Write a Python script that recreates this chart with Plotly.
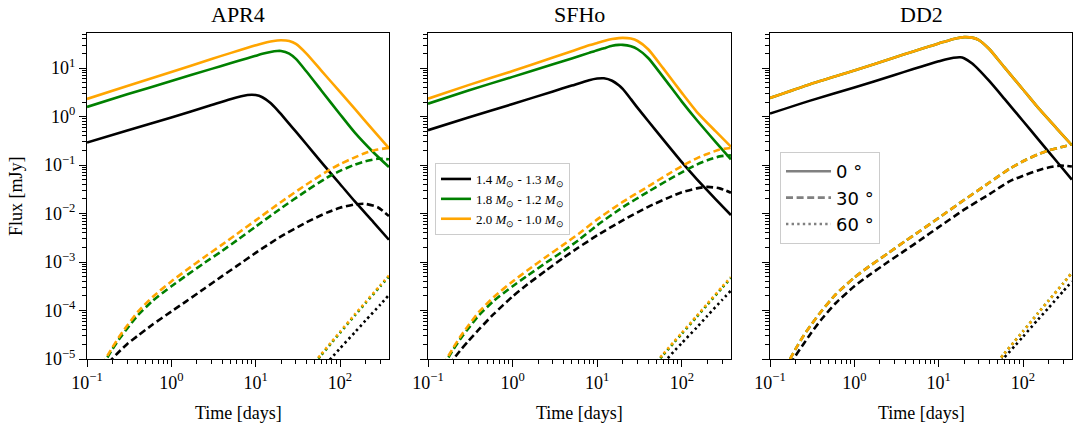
import plotly.graph_objects as go

# ---------------- data ----------------
# time grids [days]
T_SOLID = [0.1, 0.3, 1, 3, 5, 8, 10, 12, 15, 18, 20, 25, 30, 40, 60, 100, 150, 250, 380]
T_DASH = [0.15, 0.2, 0.25, 0.3, 0.4, 0.6, 1, 1.5, 2.5, 4, 6, 10, 20, 40, 70, 100, 150, 200, 280, 380]
T_DOT = [45, 60, 80, 100, 150, 200, 300, 380]

# log10(flux / mJy)
# APR4
APR4_BLACK_0 = [-0.535, -0.287, -0.02, 0.24, 0.36, 0.445, 0.445, 0.40, 0.28, 0.14, 0.05, -0.15, -0.31, -0.57, -0.94, -1.39, -1.75, -2.18, -2.54]
APR4_GREEN_0 = [0.20, 0.46, 0.735, 0.985, 1.10, 1.205, 1.255, 1.295, 1.335, 1.355, 1.355, 1.30, 1.19, 0.93, 0.54, 0.05, -0.33, -0.74, -1.04]
APR4_ORANGE_0 = [0.364, 0.63, 0.92, 1.19, 1.31, 1.42, 1.47, 1.51, 1.55, 1.57, 1.575, 1.56, 1.50, 1.30, 0.95, 0.51, 0.16, -0.29, -0.65]
APR4_BLACK_30 = [-5.25, -4.99, -4.82, -4.69, -4.52, -4.29, -4.02, -3.81, -3.54, -3.29, -3.08, -2.81, -2.47, -2.18, -1.98, -1.88, -1.81, -1.80, -1.87, -2.05]
APR4_GREEN_30 = [-5.16, -4.80, -4.55, -4.37, -4.10, -3.80, -3.50, -3.28, -3.01, -2.77, -2.55, -2.27, -1.89, -1.53, -1.26, -1.12, -0.99, -0.92, -0.87, -0.88]
APR4_ORANGE_30 = [-5.13, -4.76, -4.50, -4.31, -4.03, -3.72, -3.40, -3.17, -2.89, -2.64, -2.42, -2.14, -1.76, -1.40, -1.13, -0.98, -0.84, -0.75, -0.68, -0.645]
APR4_BLACK_60 = [-5.44, -5.2, -4.97, -4.78, -4.45, -4.21, -3.88, -3.68]
APR4_GREEN_60 = [-5.17, -4.92, -4.66, -4.46, -4.10, -3.85, -3.50, -3.30]
APR4_ORANGE_60 = [-5.15, -4.90, -4.64, -4.44, -4.08, -3.83, -3.48, -3.28]

# SFHo
SFHO_BLACK_0 = [-0.28, -0.02, 0.26, 0.52, 0.64, 0.75, 0.785, 0.79, 0.74, 0.645, 0.57, 0.36, 0.18, -0.09, -0.47, -0.94, -1.29, -1.70, -2.03]
SFHO_GREEN_0 = [0.267, 0.54, 0.82, 1.08, 1.20, 1.315, 1.37, 1.41, 1.46, 1.48, 1.48, 1.45, 1.39, 1.21, 0.82, 0.31, -0.07, -0.52, -0.88]
SFHO_ORANGE_0 = [0.37, 0.65, 0.94, 1.22, 1.35, 1.47, 1.52, 1.56, 1.60, 1.62, 1.625, 1.61, 1.56, 1.39, 1.00, 0.49, 0.10, -0.30, -0.62]
SFHO_BLACK_30 = [-5.3, -5.0, -4.79, -4.63, -4.39, -4.07, -3.71, -3.46, -3.17, -2.91, -2.70, -2.45, -2.14, -1.86, -1.67, -1.56, -1.48, -1.45, -1.48, -1.57]
SFHO_GREEN_30 = [-5.16, -4.80, -4.55, -4.37, -4.10, -3.80, -3.50, -3.28, -3.01, -2.77, -2.55, -2.24, -1.87, -1.55, -1.30, -1.15, -0.99, -0.90, -0.82, -0.80]
SFHO_ORANGE_30 = [-5.13, -4.76, -4.50, -4.31, -4.03, -3.72, -3.40, -3.17, -2.89, -2.64, -2.42, -2.12, -1.76, -1.44, -1.18, -1.02, -0.86, -0.77, -0.68, -0.645]
SFHO_BLACK_60 = [-5.32, -5.09, -4.85, -4.67, -4.35, -4.11, -3.78, -3.59]
SFHO_GREEN_60 = [-5.16, -4.92, -4.67, -4.48, -4.13, -3.88, -3.53, -3.33]
SFHO_ORANGE_60 = [-5.14, -4.90, -4.65, -4.46, -4.11, -3.86, -3.51, -3.31]

# DD2
DD2_BLACK_0 = [0.062, 0.33, 0.60, 0.86, 0.98, 1.09, 1.14, 1.18, 1.215, 1.225, 1.205, 1.095, 0.965, 0.73, 0.37, -0.09, -0.46, -0.92, -1.30]
DD2_GREEN_0 = [0.385, 0.67, 0.95, 1.22, 1.345, 1.455, 1.51, 1.55, 1.60, 1.63, 1.64, 1.63, 1.58, 1.39, 1.02, 0.56, 0.19, -0.24, -0.59]
DD2_ORANGE_0 = [0.385, 0.67, 0.95, 1.22, 1.345, 1.455, 1.51, 1.55, 1.60, 1.63, 1.64, 1.63, 1.58, 1.39, 1.02, 0.56, 0.19, -0.24, -0.59]
DD2_BLACK_30 = [-5.3, -4.94, -4.69, -4.49, -4.20, -3.85, -3.50, -3.27, -3.00, -2.76, -2.55, -2.28, -1.92, -1.60, -1.33, -1.22, -1.11, -1.05, -1.01, -1.03]
DD2_GREEN_30 = [-5.2, -4.80, -4.52, -4.32, -4.03, -3.67, -3.32, -3.09, -2.82, -2.57, -2.36, -2.09, -1.72, -1.36, -1.07, -0.92, -0.78, -0.70, -0.63, -0.575]
DD2_ORANGE_30 = [-5.2, -4.80, -4.52, -4.32, -4.03, -3.67, -3.32, -3.09, -2.82, -2.57, -2.36, -2.09, -1.72, -1.36, -1.07, -0.92, -0.78, -0.70, -0.63, -0.575]
DD2_BLACK_60 = [-5.22, -4.97, -4.73, -4.54, -4.19, -3.95, -3.60, -3.40]
DD2_GREEN_60 = [-5.15, -4.89, -4.63, -4.43, -4.06, -3.80, -3.44, -3.22]
DD2_ORANGE_60 = [-5.15, -4.89, -4.63, -4.43, -4.06, -3.80, -3.44, -3.22]

PANEL_TITLES = ["APR4", "SFHo", "DD2"]
MASS_LABELS = ["1.4 <i>M</i><sub>⊙</sub> - 1.3 <i>M</i><sub>⊙</sub>",
               "1.8 <i>M</i><sub>⊙</sub> - 1.2 <i>M</i><sub>⊙</sub>",
               "2.0 <i>M</i><sub>⊙</sub> - 1.0 <i>M</i><sub>⊙</sub>"]
ANGLE_LABELS = ["0 °", "30 °", "60 °"]

X_TICKS = [0.1, 1, 10, 100]
X_TICK_TEXT = ["10<sup>−1</sup>", "10<sup>0</sup>", "10<sup>1</sup>", "10<sup>2</sup>"]
Y_TICKS = [1e-5, 1e-4, 1e-3, 1e-2, 1e-1, 1, 10]
Y_TICK_TEXT = ["10<sup>−5</sup>", "10<sup>−4</sup>", "10<sup>−3</sup>", "10<sup>−2</sup>",
               "10<sup>−1</sup>", "10<sup>0</sup>", "10<sup>1</sup>"]
X_MINOR = [m * 10.0 ** e for e in (-1, 0, 1, 2) for m in range(2, 10)]
Y_MINOR = [m * 10.0 ** e for e in (-5, -4, -3, -2, -1, 0, 1) for m in range(2, 10)]

# ---------------- styling ----------------
COLORS = ["black", "green", "orange"]
DASHES = {"0": "solid", "30": "7px,3.6px", "60": "2.4px,3.2px"}
W = 1077
H = 432
LW = 2.6
SERIF = "Liberation Serif"

panels = [
    {"0": [APR4_BLACK_0, APR4_GREEN_0, APR4_ORANGE_0],
     "30": [APR4_BLACK_30, APR4_GREEN_30, APR4_ORANGE_30],
     "60": [APR4_BLACK_60, APR4_GREEN_60, APR4_ORANGE_60]},
    {"0": [SFHO_BLACK_0, SFHO_GREEN_0, SFHO_ORANGE_0],
     "30": [SFHO_BLACK_30, SFHO_GREEN_30, SFHO_ORANGE_30],
     "60": [SFHO_BLACK_60, SFHO_GREEN_60, SFHO_ORANGE_60]},
    {"0": [DD2_BLACK_0, DD2_GREEN_0, DD2_ORANGE_0],
     "30": [DD2_BLACK_30, DD2_GREEN_30, DD2_ORANGE_30],
     "60": [DD2_BLACK_60, DD2_GREEN_60, DD2_ORANGE_60]},
]
times = {"0": T_SOLID, "30": T_DASH, "60": T_DOT}

# panel pixel boxes (left, right)
X_PIX = [(87, 389), (428, 731), (770, 1072)]
Y_TOP, Y_BOT = 33, 359

fig = go.Figure()

for p, pdata in enumerate(panels):
    xa = "x" if p == 0 else f"x{p+1}"
    ya = "y" if p == 0 else f"y{p+1}"
    for ang in ["0", "30", "60"]:
        for c, vals in enumerate(pdata[ang]):
            fig.add_trace(go.Scatter(
                x=times[ang], y=[10 ** v for v in vals], mode="lines",
                line=dict(color=COLORS[c], width=LW, dash=DASHES[ang],
                          shape="spline", smoothing=0.6),
                xaxis=xa, yaxis=ya, showlegend=False, hoverinfo="skip"))

# legend entries (masses) -> legend in SFHo panel
for c, lab in enumerate(MASS_LABELS):
    fig.add_trace(go.Scatter(x=[None], y=[None], mode="lines", name=lab,
                             line=dict(color=COLORS[c], width=LW),
                             xaxis="x2", yaxis="y2", legend="legend"))
# legend entries (angles) -> legend in DD2 panel
for a, lab in zip(["0", "30", "60"], ANGLE_LABELS):
    fig.add_trace(go.Scatter(x=[None], y=[None], mode="lines", name=lab,
                             line=dict(color="gray", width=LW, dash=DASHES[a]),
                             xaxis="x3", yaxis="y3", legend="legend2"))

axis_common = dict(type="log", showline=True, linecolor="black", linewidth=1,
                   mirror=True, showgrid=False, zeroline=False, automargin=False,
                   ticks="outside", ticklen=7, tickwidth=1, tickcolor="black",
                   tickfont=dict(family=SERIF, size=18, color="black"))

layout = dict(width=W, height=H, margin=dict(l=0, r=0, t=0, b=0, autoexpand=False),
              plot_bgcolor="white", paper_bgcolor="white", showlegend=True)

ydom = [1 - Y_BOT / H, 1 - Y_TOP / H]
annotations = []
for p in range(3):
    xl, xr = X_PIX[p]
    xk = "xaxis" if p == 0 else f"xaxis{p+1}"
    yk = "yaxis" if p == 0 else f"yaxis{p+1}"
    layout[xk] = dict(axis_common, domain=[xl / W, xr / W], range=[-1, 2.581],
                      tickmode="array", tickvals=X_TICKS, ticktext=X_TICK_TEXT,
                      anchor="y" if p == 0 else f"y{p+1}",
                      minor=dict(tickmode="array", tickvals=X_MINOR, ticks="outside",
                                 ticklen=4, tickwidth=0.8, tickcolor="black", showgrid=False))
    layout[yk] = dict(axis_common, domain=ydom, range=[-5, 1.725],
                      tickmode="array", tickvals=Y_TICKS, ticktext=Y_TICK_TEXT,
                      showticklabels=(p == 0),
                      anchor="x" if p == 0 else f"x{p+1}",
                      minor=dict(tickmode="array", tickvals=Y_MINOR, ticks="outside",
                                 ticklen=4, tickwidth=0.8, tickcolor="black", showgrid=False))
    cx = (xl + xr) / 2 / W
    annotations.append(dict(text=PANEL_TITLES[p], x=cx, y=1 - 15 / H, xref="paper", yref="paper",
                            showarrow=False, xanchor="center", yanchor="middle",
                            font=dict(family=SERIF, size=22, color="black")))
    annotations.append(dict(text="Time [days]", x=cx, y=1 - 413 / H, xref="paper", yref="paper",
                            showarrow=False, xanchor="center", yanchor="middle",
                            font=dict(family=SERIF, size=18, color="black")))

annotations.append(dict(text="Flux [mJy]", x=16 / W, y=1 - 196 / H, xref="paper", yref="paper",
                        showarrow=False, textangle=-90, xanchor="center", yanchor="middle",
                        font=dict(family=SERIF, size=18, color="black")))
layout["annotations"] = annotations

layout["legend"] = dict(x=435 / W, y=1 - 163 / H, xanchor="left", yanchor="top",
                        bgcolor="rgba(255,255,255,0.85)", bordercolor="#cccccc", borderwidth=1,
                        font=dict(family=SERIF, size=13, color="black"), tracegroupgap=0)
layout["legend2"] = dict(x=780 / W, y=1 - 152 / H, xanchor="left", yanchor="top",
                         bgcolor="rgba(255,255,255,0.85)", bordercolor="#cccccc", borderwidth=1,
                         itemwidth=45,
                         font=dict(family="DejaVu Sans", size=18, color="black"), tracegroupgap=0)

fig.update_layout(layout)
fig.write_html("out.html")
